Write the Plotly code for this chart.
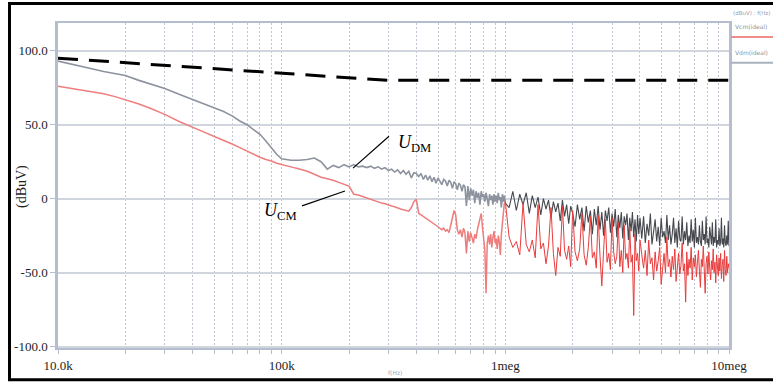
import plotly.graph_objects as go

# ---------------- data (frequencies in kHz, levels in dBuV) ----------------
freq_low_khz = [10, 12, 14, 16, 18, 20, 23, 26, 30, 35, 40, 45, 50, 55, 60, 65, 70, 75, 80, 85, 90, 95, 100]
dm_low = [93, 90.5, 88, 86, 84.5, 83.3, 80, 77.5, 74.5, 70.5, 67, 64, 61.5, 59, 56, 52.5, 50, 46.5, 43.5, 39, 34.5, 30, 27]
cm_low = [76, 74, 72.5, 71, 69, 67, 64, 61, 57, 52, 48, 45, 42, 39.5, 37, 34.5, 32, 30, 28, 26.5, 25.5, 24, 23]

freq_mid_khz = [110, 120, 130, 140, 150, 160, 170, 180, 190, 200,
                210, 220, 230, 240, 250, 260, 270, 280, 290, 300,
                310, 320, 330, 340, 350, 360, 370, 380, 390, 400,
                410, 420, 430, 440, 450, 460, 470, 480, 490, 500,
                510, 520, 530, 540, 550, 560, 570, 580, 590, 600,
                610, 620, 630, 640, 650, 660, 670, 680, 690, 700,
                710, 720, 730, 740, 750, 760, 770, 780, 790, 800,
                810, 820, 830, 840, 850, 860, 870, 880, 890, 900,
                910, 920, 930, 940, 950, 960, 970, 980, 990, 1000]
dm_mid = [26, 26, 26.5, 27.5, 25, 20, 22.5, 21, 23, 21.5,
          23, 21.5, 22, 21, 22, 20.5, 21.5, 20, 21, 19,
          20, 18, 19.5, 17, 19, 16.5, 18.5, 14, 17.5, 17,
          15, 17, 13, 16, 12.5, 15.5, 11.5, 14.5, 10.5, 14,
          12, 9.5, 13, 12, 8.5, 12.5, 11, 7, 11.5, 10,
          6, 10.5, 9, 5, 9.5, 8, -5, 8.5, -1, 7,
          2, 6, -3, 5, 0.5, 4, -4, 5, 1, 3,
          -2, 4, 0, -5, 3, -1, 2, -4, 3, -2,
          2, -3, 4, -1, 1, -6, 3, -2, 2, -3]
cm_mid = [21.5, 20, 18.5, 16.5, 14.5, 13.5, 12.5, 11, 9.5, 8.5,
          3, 2.5, 1.5, 0.5, -0.5, -1.5, -2, -3, -3.5, -4,
          -5, -5.5, -6, -7, -7.5, -8, -8.5, -6, -2, -0.5,
          -10, -11, -12, -13, -14, -15, -16, -17, -18, -19,
          -20, -21, -20, -22, -21, -23, -18, -12, -8, -11,
          -21, -24, -21, -26, -20, -23, -37, -22, -29, -23,
          -26, -30, -24, -27, -21, -17, -13, -10, -19, -28,
          -35, -64, -30, -25, -31, -24, -33, -26, -22, -30,
          -27, -34, -25, -29, -38, -24, -18, -9, -3, -2]

freq_high_khz = [1040, 1080, 1120, 1160, 1200, 1240, 1280, 1320, 1360, 1400,
                 1440, 1480, 1520, 1560, 1600, 1640, 1680, 1720, 1760, 1800,
                 1840, 1880, 1920, 1960, 2000,
                 2050, 2100, 2150, 2200, 2250, 2300, 2350, 2400, 2450, 2500,
                 2550, 2600, 2650, 2700, 2750, 2800, 2850, 2900, 2950, 3000,
                 3050, 3100, 3150, 3200, 3250, 3300, 3350, 3400, 3450, 3500,
                 3550, 3600, 3650, 3700, 3750, 3800, 3850, 3900, 3950, 4000,
                 4075, 4150, 4225, 4300, 4375, 4450, 4525, 4600, 4675, 4750,
                 4825, 4900, 4975, 5050, 5125, 5200, 5275, 5350, 5425, 5500,
                 5575, 5650, 5725, 5800, 5875, 5950, 6025, 6100, 6175, 6250,
                 6325, 6400, 6475, 6550, 6625, 6700, 6775, 6850, 6925, 7000,
                 7075, 7150, 7225, 7300, 7375, 7450, 7525, 7600, 7675, 7750,
                 7825, 7900, 7975, 8050, 8125, 8200, 8275, 8350, 8425, 8500,
                 8575, 8650, 8725, 8800, 8875, 8950, 9025, 9100, 9175, 9250,
                 9325, 9400, 9475, 9550, 9625, 9700, 9775, 9850, 9925, 10000]
dm_high = [-6, 5, -8, 3, -4, 4, -10, 2, -6, 1,
           -11, 0, -7, -1, -13, -2, -9, -3, -15, -1,
           -12, -4, -17, -5, -10,
           -19, -4, -14, -6, -22, -5, -16, -8, -24, -7,
           -18, -5, -21, -9, -25, -8, -15, -6, -23, -10,
           -19, -7, -26, -11, -20, -9, -27, -12, -18, -10,
           -28, -13, -22, -9, -26, -14, -29, -11, -24, -13,
           -27, -12, -30, -17, -25, -10, -31, -21, -14, -29,
           -19, -32, -13, -26, -22, -30, -11, -28, -18, -31,
           -24, -13, -30, -20, -33, -15, -27, -29, -12, -31,
           -22, -28, -16, -32, -25, -30, -14, -29, -21, -33,
           -13, -30, -26, -31, -18, -29, -32, -15, -28, -24,
           -31, -12, -30, -27, -33, -19, -29, -31, -16, -32,
           -26, -30, -14, -33, -28, -31, -20, -32, -29, -13,
           -31, -27, -33, -18, -30, -32, -25, -31, -15, -32]
cm_high = [-26, -33, -29, -38, -3, -31, -36, -28, -40, -4,
           -34, -30, -44, -32, -6, -37, -52, -33, -39, -5,
           -35, -41, -32, -46, -8,
           -36, -42, -34, -10, -38, -45, -33, -12, -40, -36,
           -47, -11, -39, -59, -35, -14, -43, -37, -48, -13,
           -36, -44, -39, -16, -46, -35, -50, -18, -41, -37,
           -47, -20, -43, -38, -79, -24, -42, -37, -49, -28,
           -38, -47, -35, -52, -28, -44, -40, -55, -36, -49,
           -42, -33, -58, -45, -37, -50, -26, -46, -41, -53,
           -39, -48, -34, -56, -43, -37, -51, -45, -30, -49,
           -44, -70, -36, -52, -41, -47, -33, -55, -40, -46,
           -38, -53, -43, -35, -49, -60, -41, -46, -32, -50,
           -64, -44, -39, -51, -36, -47, -55, -42, -48, -34,
           -50, -43, -57, -38, -46, -52, -40, -49, -37, -54,
           -45, -41, -56, -35, -48, -52, -39, -50, -44, -47]

limit_freq_khz = [10, 300, 10000]
limit_level = [95, 80, 80]

x_major_khz = [10, 100, 1000, 10000]
x_major_labels = ["10.0k", "100k", "1meg", "10meg"]
x_minor_khz = [20, 30, 40, 50, 60, 70, 80, 90,
               200, 300, 400, 500, 600, 700, 800, 900,
               2000, 3000, 4000, 5000, 6000, 7000, 8000, 9000]
y_ticks = [100, 50, 0, -50, -100]
y_tick_labels = ["100.0", "50.0", "0", "-50.0", "-100.0"]

# ---------------- figure ----------------
hz = lambda seq: [f * 1000 for f in seq]
# smooth part (10k-1meg) and dense part (1meg-10meg) share the 1meg point
freq_a = hz(freq_low_khz + freq_mid_khz)
freq_b = hz(freq_mid_khz[-1:] + freq_high_khz)

SERIF = "Liberation Serif"
fig = go.Figure()
fig.add_trace(go.Scatter(x=freq_a, y=dm_low + dm_mid, mode="lines",
                         line=dict(color="rgb(140,147,158)", width=1.6), showlegend=False))
fig.add_trace(go.Scatter(x=freq_b, y=dm_mid[-1:] + dm_high, mode="lines",
                         line=dict(color="rgb(70,72,78)", width=1.1), showlegend=False))
fig.add_trace(go.Scatter(x=freq_a, y=cm_low + cm_mid, mode="lines",
                         line=dict(color="rgb(238,125,125)", width=1.5), showlegend=False))
fig.add_trace(go.Scatter(x=freq_b, y=cm_mid[-1:] + cm_high, mode="lines",
                         line=dict(color="rgb(232,60,60)", width=1.0), showlegend=False))
fig.add_trace(go.Scatter(x=hz(limit_freq_khz), y=limit_level, mode="lines",
                         line=dict(color="black", width=3, dash="20px,11px"), showlegend=False))

grid_c = "rgb(190,198,212)"
axis_c = "rgb(180,190,206)"
fig.update_xaxes(type="log", range=[4, 7],
                 tickmode="array", tickvals=hz(x_major_khz), ticktext=x_major_labels,
                 showgrid=True, gridcolor=grid_c, gridwidth=1, griddash="2px,2px",
                 minor=dict(tickmode="array", tickvals=hz(x_minor_khz), showgrid=True,
                            gridcolor=grid_c, gridwidth=1, griddash="2px,2px",
                            ticks="outside", ticklen=4, tickcolor=axis_c),
                 showline=True, linecolor=axis_c, linewidth=2, mirror=True,
                 ticks="outside", ticklen=4, tickcolor=axis_c,
                 tickfont=dict(family=SERIF, size=13, color="rgb(30,30,30)"),
                 zeroline=False)
fig.update_yaxes(range=[-101, 118.8], tickvals=y_ticks, ticktext=y_tick_labels,
                 showgrid=True, gridcolor="rgb(208,213,222)", gridwidth=2,
                 showline=True, linecolor=axis_c, linewidth=2.5, mirror=True,
                 ticks="outside", ticklen=5, tickcolor=axis_c,
                 tickfont=dict(family=SERIF, size=13, color="rgb(30,30,30)"),
                 zeroline=False)

W, H = 773, 385
L, R, T, B = 58, 44, 23, 35
pw, ph = W - L - R, H - T - B


def px(xp):
    return (xp - L) / pw


def py(yp):
    return (H - B - yp) / ph


shapes = [
    # outer black frame (right side runs off the picture)
    dict(type="rect", xref="paper", yref="paper", x0=px(9.5), x1=px(790), y0=py(382), y1=py(3.5),
         line=dict(color="black", width=3)),
    # leader lines
    dict(type="line", xref="paper", yref="paper", x0=px(353), y0=py(169), x1=px(389), y1=py(137),
         line=dict(color="black", width=1.2)),
    dict(type="line", xref="paper", yref="paper", x0=px(302), y0=py(207), x1=px(345), y1=py(192),
         line=dict(color="black", width=1.2)),
    # legend swatches
    dict(type="line", xref="paper", yref="paper", x0=px(731), y0=py(37), x1=px(775), y1=py(37),
         line=dict(color="rgb(240,140,140)", width=2)),
    dict(type="line", xref="paper", yref="paper", x0=px(731), y0=py(63), x1=px(775), y1=py(63),
         line=dict(color="rgb(170,178,190)", width=2)),
]

annotations = [
    dict(xref="paper", yref="paper", x=px(396), y=py(144), xanchor="left", yanchor="middle",
         text="<i>U</i><sub>DM</sub>", showarrow=False, font=dict(family=SERIF, size=18, color="black")),
    dict(xref="paper", yref="paper", x=px(299), y=py(213), xanchor="right", yanchor="middle",
         text="<i>U</i><sub>CM</sub>", showarrow=False, font=dict(family=SERIF, size=18, color="black")),
    dict(xref="paper", yref="paper", x=px(22), y=py(188), textangle=-90, xanchor="center", yanchor="middle",
         text="(dBuV)", showarrow=False, font=dict(family=SERIF, size=14, color="rgb(30,30,30)")),
    dict(xref="paper", yref="paper", x=px(395), y=py(375), xanchor="center", yanchor="middle",
         text="f(Hz)", showarrow=False, font=dict(family="DejaVu Sans", size=6, color="rgb(160,170,185)")),
    dict(xref="paper", yref="paper", x=px(731), y=py(13), xanchor="left", yanchor="middle",
         text="(dBuV) : f(Hz)", showarrow=False, font=dict(family="DejaVu Sans", size=5.5, color="rgb(150,160,175)")),
    dict(xref="paper", yref="paper", x=px(733), y=py(27), xanchor="left", yanchor="middle",
         text="Vcm(ideal)", showarrow=False, font=dict(family="DejaVu Sans", size=6, color="rgb(140,150,165)")),
    dict(xref="paper", yref="paper", x=px(733), y=py(53), xanchor="left", yanchor="middle",
         text="Vdm(ideal)", showarrow=False, font=dict(family="DejaVu Sans", size=6, color="rgb(140,150,165)")),
]

fig.update_layout(width=W, height=H, margin=dict(l=L, r=R, t=T, b=B),
                  paper_bgcolor="white", plot_bgcolor="white",
                  shapes=shapes, annotations=annotations, showlegend=False)

fig.write_html("out.html")
